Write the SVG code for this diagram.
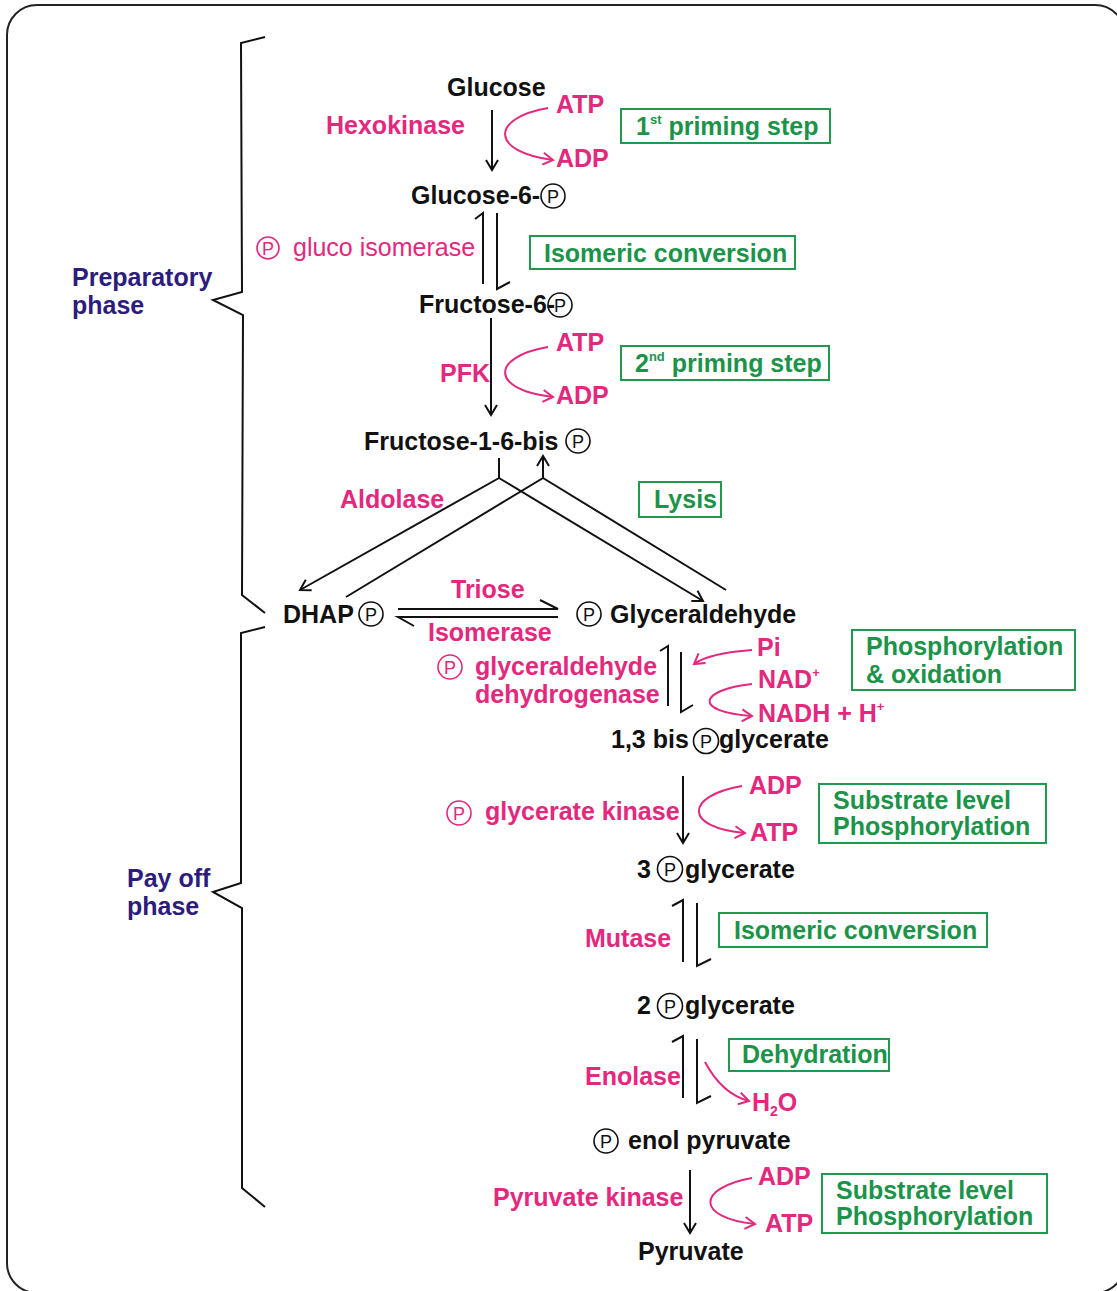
<svg xmlns="http://www.w3.org/2000/svg" width="1117" height="1291" viewBox="0 0 1117 1291">
<defs>
<style>
.t{font-family:"Liberation Sans",Arial,sans-serif;font-size:25px;font-weight:bold;fill:#111}
.pk{font-family:"Liberation Sans",Arial,sans-serif;font-size:25px;font-weight:bold;fill:#e3287d}
.pr{font-family:"Liberation Sans",Arial,sans-serif;font-size:25px;font-weight:normal;fill:#e3287d}
.gr{font-family:"Liberation Sans",Arial,sans-serif;font-size:25px;font-weight:bold;fill:#1b944a}
.ph{font-family:"Liberation Sans",Arial,sans-serif;font-size:25px;font-weight:bold;fill:#2d1c7e}
.cp{font-family:"Liberation Sans",Arial,sans-serif;font-size:18px;font-weight:normal;text-anchor:middle}
.box{fill:none;stroke:#1f9a4e;stroke-width:2}
.ln{fill:none;stroke:#111;stroke-width:2}
.pl{fill:none;stroke:#e3287d;stroke-width:2}
.cb{fill:none;stroke:#111;stroke-width:1.6}
.cpk{fill:none;stroke:#e3287d;stroke-width:1.6}
</style>
<marker id="ah" markerWidth="18" markerHeight="18" refX="14" refY="9" orient="auto" markerUnits="userSpaceOnUse"><path d="M4,3 L14,9 L4,15" fill="none" stroke="#111" stroke-width="2"/></marker>
<marker id="ahp" markerWidth="18" markerHeight="18" refX="14" refY="9" orient="auto" markerUnits="userSpaceOnUse"><path d="M4,3 L14,9 L4,15" fill="none" stroke="#e3287d" stroke-width="2"/></marker>
</defs>
<rect x="0" y="0" width="1117" height="1291" fill="#fff"/>
<rect x="7" y="5" width="1118" height="1288" rx="30" fill="none" stroke="#222" stroke-width="2"/>

<g id="braces">
<path class="ln" d="M265,37 L241,43 L242,292 L213,300 L243,315 L242,595 L265,613"/>
<path class="ln" d="M265,627 L241,633 L241,883 L213,892 L242,908 L242,1188 L265,1207"/>
<text class="ph" x="72" y="286">Preparatory</text>
<text class="ph" x="72" y="314">phase</text>
<text class="ph" x="127" y="887">Pay off</text>
<text class="ph" x="127" y="915">phase</text>
</g>

<g id="connectors">
<line class="ln" x1="492" y1="110" x2="492" y2="170" marker-end="url(#ah)"/>
<path class="pl" d="M548,108 C490,118 490,152 553,160" marker-end="url(#ahp)"/>
<path class="ln" d="M475,219 L483,213 L483,284"/>
<path class="ln" d="M497,213 L497,289 L510,282"/>
<line class="ln" x1="491" y1="318" x2="491" y2="415" marker-end="url(#ah)"/>
<path class="pl" d="M548,347 C490,357 490,390 553,397" marker-end="url(#ahp)"/>
<path class="ln" d="M499,458 L499,478 L300,590" marker-end="url(#ah)"/>
<path class="ln" d="M499,478 L703,601" marker-end="url(#ah)"/>
<path class="ln" d="M346,597 L543,478 L543,456" marker-end="url(#ah)"/>
<path class="ln" d="M726,590 L543,478"/>
<path class="ln" d="M398,609 L558,609 L540,600"/>
<path class="ln" d="M414,626 L398,617 L558,617"/>
<path class="ln" d="M660,651 L668,646 L668,706"/>
<path class="ln" d="M681,652 L681,712 L693,705"/>
<path class="pl" d="M752,650 C725,652 705,656 694,664" marker-end="url(#ahp)"/>
<path class="pl" d="M752,684 C698,690 693,712 752,716" marker-end="url(#ahp)"/>
<line class="ln" x1="683" y1="776" x2="683" y2="843" marker-end="url(#ah)"/>
<path class="pl" d="M742,786 C684,796 684,828 745,833" marker-end="url(#ahp)"/>
<path class="ln" d="M672,906 L683,900 L683,962"/>
<path class="ln" d="M697,903 L697,966 L711,959"/>
<path class="ln" d="M672,1042 L683,1036 L683,1098"/>
<path class="ln" d="M697,1039 L697,1103 L711,1096"/>
<path class="pl" d="M705,1062 Q722,1094 749,1101" marker-end="url(#ahp)"/>
<line class="ln" x1="690" y1="1170" x2="690" y2="1233" marker-end="url(#ah)"/>
<path class="pl" d="M752,1178 C696,1188 696,1218 755,1224" marker-end="url(#ahp)"/>
</g>

<g id="glucose"><text class="t" x="447" y="96">Glucose</text></g>
<g id="hexokinase"><text class="pk" x="326" y="134">Hexokinase</text>
<text class="pk" x="556" y="113">ATP</text><text class="pk" x="556" y="167">ADP</text></g>
<g id="box1"><rect class="box" x="621" y="109" width="209" height="34"/>
<text class="gr" x="636" y="135">1<tspan font-size="13" dy="-11">st</tspan><tspan dy="11"> priming step</tspan></text></g>

<g id="g6p"><text class="t" x="411" y="204">Glucose-6-</text>
<circle class="cb" cx="553" cy="196" r="12"/><text class="cp" x="553" y="202.5" fill="#111">P</text></g>

<g id="glucoisomerase"><circle class="cpk" cx="268" cy="248" r="11"/><text class="cp" x="268" y="254.5" fill="#e3287d">P</text>
<text class="pr" x="293" y="256">gluco isomerase</text></g>
<g id="box2"><rect class="box" x="530" y="236" width="265" height="33"/>
<text class="gr" x="544" y="262">Isomeric conversion</text></g>

<g id="f6p"><text class="t" x="419" y="313">Fructose-6-</text>
<circle class="cb" cx="560" cy="305" r="12"/><text class="cp" x="560" y="311.5" fill="#111">P</text></g>

<g id="pfk"><text class="pk" x="440" y="382">PFK</text>
<text class="pk" x="556" y="351">ATP</text><text class="pk" x="556" y="404">ADP</text></g>
<g id="box3"><rect class="box" x="621" y="346" width="208" height="34"/>
<text class="gr" x="635" y="372">2<tspan font-size="13" dy="-11">nd</tspan><tspan dy="11"> priming step</tspan></text></g>

<g id="f16bp"><text class="t" x="364" y="450">Fructose-1-6-bis</text>
<circle class="cb" cx="578" cy="441" r="12"/><text class="cp" x="578" y="447.5" fill="#111">P</text></g>

<g id="aldolase"><text class="pk" x="340" y="508">Aldolase</text></g>
<g id="box4"><rect class="box" x="639" y="482" width="82" height="35"/>
<text class="gr" x="654" y="508">Lysis</text></g>

<g id="dhap"><text class="t" x="283" y="623">DHAP</text>
<circle class="cb" cx="371" cy="614" r="12"/><text class="cp" x="371" y="620.5" fill="#111">P</text></g>

<g id="triose"><text class="pk" x="451" y="598">Triose</text><text class="pk" x="428" y="641">Isomerase</text></g>

<g id="g3p"><circle class="cb" cx="589" cy="614" r="12"/><text class="cp" x="589" y="620.5" fill="#111">P</text>
<text class="t" x="610" y="623">Glyceraldehyde</text></g>

<g id="g3pdh"><circle class="cpk" cx="450" cy="667" r="12"/><text class="cp" x="450" y="673.5" fill="#e3287d">P</text>
<text class="pk" x="475" y="675">glyceraldehyde</text>
<text class="pk" x="475" y="703">dehydrogenase</text>
<text class="pk" x="757" y="656">Pi</text>
<text class="pk" x="758" y="688">NAD<tspan font-size="13" dy="-11">+</tspan></text>
<text class="pk" x="758" y="722">NADH + H<tspan font-size="13" dy="-11">+</tspan></text></g>
<g id="box5"><rect class="box" x="852" y="630" width="223" height="60"/>
<text class="gr" x="866" y="655">Phosphorylation</text><text class="gr" x="866" y="683">&amp; oxidation</text></g>

<g id="bpg13"><text class="t" x="611" y="748">1,3 bis</text>
<circle class="cb" cx="706" cy="741" r="12.5"/><text class="cp" x="706" y="747.5" fill="#111">P</text>
<text class="t" x="719" y="748">glycerate</text></g>

<g id="pgk"><circle class="cpk" cx="459" cy="813" r="12"/><text class="cp" x="459" y="819.5" fill="#e3287d">P</text>
<text class="pk" x="485" y="820">glycerate kinase</text>
<text class="pk" x="749" y="794">ADP</text><text class="pk" x="750" y="841">ATP</text></g>
<g id="box6"><rect class="box" x="819" y="784" width="227" height="59"/>
<text class="gr" x="833" y="809">Substrate level</text><text class="gr" x="833" y="835">Phosphorylation</text></g>

<g id="pg3"><text class="t" x="637" y="878">3</text>
<circle class="cb" cx="670" cy="869" r="12.5"/><text class="cp" x="670" y="875.5" fill="#111">P</text>
<text class="t" x="685" y="878">glycerate</text></g>

<g id="mutase"><text class="pk" x="585" y="947">Mutase</text></g>
<g id="box7"><rect class="box" x="719" y="913" width="268" height="34"/>
<text class="gr" x="734" y="939">Isomeric conversion</text></g>

<g id="pg2"><text class="t" x="637" y="1014">2</text>
<circle class="cb" cx="670" cy="1006" r="12.5"/><text class="cp" x="670" y="1012.5" fill="#111">P</text>
<text class="t" x="685" y="1014">glycerate</text></g>

<g id="enolase"><text class="pk" x="585" y="1085">Enolase</text>
<text class="pk" x="752" y="1111">H<tspan font-size="14" dy="5">2</tspan><tspan dy="-5">O</tspan></text></g>
<g id="box8"><rect class="box" x="729" y="1039" width="160" height="32"/>
<text class="gr" x="742" y="1063">Dehydration</text></g>

<g id="pep"><circle class="cb" cx="606" cy="1141" r="12"/><text class="cp" x="606" y="1147.5" fill="#111">P</text>
<text class="t" x="628" y="1149">enol pyruvate</text></g>

<g id="pk"><text class="pk" x="493" y="1206">Pyruvate kinase</text>
<text class="pk" x="758" y="1185">ADP</text><text class="pk" x="765" y="1232">ATP</text></g>
<g id="box9"><rect class="box" x="822" y="1174" width="225" height="59"/>
<text class="gr" x="836" y="1199">Substrate level</text><text class="gr" x="836" y="1225">Phosphorylation</text></g>

<g id="pyruvate"><text class="t" x="638" y="1260">Pyruvate</text></g>
</svg>
